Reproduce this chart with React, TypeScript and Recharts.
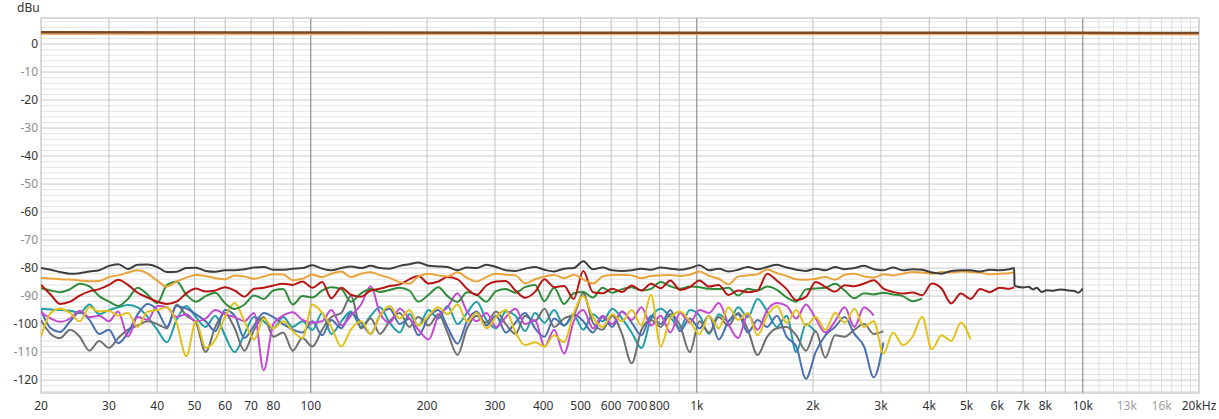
import React from 'react'
import { LineChart, Line, XAxis, YAxis, CartesianGrid } from 'recharts'

const FONT = '"Noto Sans", "Open Sans", sans-serif'

// 1/12 octave frequency grid, 20 Hz .. 6.45 kHz
const FREQ = [
  20, 21.2, 22.4, 23.8, 25.2, 26.7, 28.3, 30, 31.7, 33.6, 35.6, 37.8,
  40, 42.4, 44.9, 47.6, 50.4, 53.4, 56.6, 59.9, 63.5, 67.3, 71.3, 75.5,
  80, 84.8, 89.8, 95.1, 101, 107, 113, 120, 127, 135, 143, 151,
  160, 170, 180, 190, 202, 214, 226, 240, 254, 269, 285, 302,
  320, 339, 359, 381, 403, 427, 453, 480, 508, 538, 570, 604,
  640, 678, 719, 761, 806, 854, 905, 959, 1016, 1076, 1140, 1208,
  1280, 1356, 1437, 1522, 1613, 1709, 1810, 1918, 2032, 2153, 2281, 2416,
  2560, 2712, 2874, 3044, 3225, 3417, 3620, 3836, 4064, 4305, 4561, 4833,
  5120, 5424, 5747, 6089, 6451,
]

// reference level trace (dBu)
const LEVEL_F = [20, 100, 1000, 10000, 20000]
const LEVEL_BROWN = [4.2, 4.1, 4.0, 4.0, 3.9]
const LEVEL_ORANGE = [3.6, 3.5, 3.5, 3.5, 3.4]

const DARK = [
  -80.0, -80.6, -81.4, -82.0, -81.8, -81.2, -80.8, -79.2, -78.6, -80.3, -78.8, -78.7,
  -79.6, -81.4, -81.3, -80.0, -79.9, -81.0, -81.3, -80.8, -80.8, -80.4, -79.8, -79.6,
  -80.6, -80.6, -80.2, -80.0, -79.0, -80.2, -80.8, -80.0, -79.4, -80.0, -79.2, -80.0,
  -80.2, -79.2, -78.6, -78.0, -79.2, -79.4, -79.6, -80.8, -79.8, -80.0, -78.8, -79.6,
  -80.8, -81.0, -80.2, -79.6, -80.6, -81.2, -80.2, -80.0, -77.6, -80.4, -79.8, -80.8,
  -81.0, -80.8, -80.2, -80.6, -79.8, -80.2, -80.6, -80.0, -79.0, -80.8, -80.2, -81.2,
  -80.6, -79.6, -80.4, -79.6, -78.8, -79.8, -80.6, -81.0, -80.2, -80.8, -79.6, -80.4,
  -80.0, -79.2, -80.4, -80.8, -79.8, -80.8, -80.4, -80.6, -81.6, -82.0, -81.0, -80.8,
  -80.8, -81.2, -80.6, -80.8, -80.4,
]
const DARK_TAIL_F = [6640, 6655, 6673, 7013, 7226, 7441, 7594, 7825, 8061, 8385, 8728, 9085, 9449, 9734, 9993]
const DARK_TAIL = [-80.0, -86.3, -86.4, -86.9, -86.7, -87.6, -87.0, -88.5, -87.9, -88.1, -87.6, -87.9, -88.1, -88.8, -87.3]

const ORANGE = [
  -83.5, -83.7, -84.0, -84.1, -84.4, -84.7, -84.6, -83.2, -82.6, -81.6, -80.8, -82.0,
  -84.5, -86.6, -84.8, -83.4, -82.5, -82.8, -83.6, -84.0, -82.6, -83.0, -83.8, -83.0,
  -82.2, -82.3, -84.3, -83.8, -82.4, -83.2, -82.0, -81.2, -83.2, -82.0, -81.5, -82.5,
  -83.5, -85.0, -85.6, -83.0, -82.0, -82.6, -83.0, -81.5, -83.5, -84.8, -83.2, -82.0,
  -82.4, -82.6, -85.5, -84.0, -83.0, -82.5, -83.6, -82.4, -84.0, -85.5, -83.0, -82.5,
  -82.4, -82.6, -83.6, -82.8, -82.6, -82.5, -82.8, -82.4, -81.2, -82.8, -83.8, -85.8,
  -83.0, -82.6, -82.2, -80.5, -81.8, -82.8, -84.0, -84.2, -83.8, -83.2, -84.2, -82.4,
  -82.0, -83.0, -83.4, -82.2, -82.6, -82.0, -81.4, -81.6, -82.0, -81.4, -81.6, -81.2,
  -81.4, -81.6, -82.2, -82.0, -81.8,
]
const RED = [
  -86.0, -89.5, -92.8, -92.0, -89.8, -88.3, -87.5, -86.0, -84.2, -86.0, -88.8, -90.5,
  -92.0, -92.8, -92.0, -89.0, -87.3, -88.4, -88.0, -86.8, -88.0, -90.2, -87.4, -87.0,
  -86.2, -85.6, -86.0, -84.8, -87.0, -85.0, -90.8, -87.0, -89.5, -90.2, -88.0, -87.4,
  -86.4, -85.8, -84.0, -82.8, -85.5, -84.8, -83.2, -84.0, -87.4, -89.6, -86.2, -84.8,
  -84.6, -88.0, -90.6, -88.5, -84.0, -86.8, -86.4, -91.0, -81.0, -88.6, -89.0, -87.4,
  -88.5, -86.2, -88.0, -85.6, -87.2, -84.4, -87.8, -86.8, -84.4, -86.6, -86.0, -89.6,
  -88.0, -88.6, -88.0, -82.0, -84.5, -87.5, -91.5, -90.3, -85.0, -86.7, -88.4, -86.1,
  -86.5, -85.5, -84.3, -87.3, -88.5, -89.1, -88.7, -89.7, -85.5, -87.3, -92.6, -89.1,
  -91.0, -87.5, -88.6, -87.0, -87.4,
]
const GREEN = [
  -87.2, -88.0, -88.6, -87.5, -85.6, -86.5, -90.0, -92.0, -93.5, -91.0, -87.0, -89.5,
  -92.5, -86.0, -84.8, -89.5, -92.0, -90.0, -88.8, -92.5, -94.6, -93.0, -89.8, -91.0,
  -88.0, -87.5, -93.0, -90.0, -90.5, -88.0, -86.8, -87.5, -92.0, -89.0, -87.5, -88.5,
  -87.8, -87.0, -88.0, -92.0, -89.5, -86.8, -90.0, -92.0, -88.6, -89.5, -92.0, -88.2,
  -87.5, -88.8, -86.8, -86.0, -91.8, -87.0, -92.8, -89.0, -88.5, -90.5, -87.0, -88.8,
  -87.5, -86.8, -88.0, -87.4, -85.0, -86.5, -87.4, -86.6, -86.8, -87.4, -87.5, -87.0,
  -89.8, -87.4, -88.0, -86.6, -87.8, -90.5, -92.0, -87.6, -87.3, -87.0, -85.6, -88.0,
  -90.8, -89.0, -89.4, -88.8, -89.4, -90.0, -91.8, -90.8,
]
const TEAL = [
  -94.5, -94.8, -95.0, -95.2, -96.0, -93.0, -96.5, -95.0, -94.0, -93.2, -94.0, -97.5,
  -102.0, -106.5, -98.5, -93.5, -97.5, -101.0, -97.0, -104.0, -110.0, -103.5, -97.5, -99.0,
  -101.5, -97.5, -101.0, -99.0, -102.0, -96.0, -103.5, -99.0, -95.5, -101.0, -97.0, -94.0,
  -99.5, -103.0, -96.5, -100.5, -95.0, -98.0, -93.5, -100.0, -96.0, -92.0, -98.5, -101.5,
  -95.5, -97.0, -102.5, -96.0, -99.5, -95.0, -100.5, -97.0, -102.0, -96.5, -99.0, -94.5,
  -98.0, -103.0, -108.5, -98.0, -94.5, -97.5, -101.5, -95.0, -97.0, -103.5, -96.5, -99.0,
  -94.0, -97.5, -91.0, -95.5, -101.0, -97.0, -110.0, -100.0, -103.0,
]
const BLUE = [
  -95.0, -101.5, -102.8, -99.0, -95.8, -98.5, -103.5, -102.0, -106.8, -103.0, -96.5, -92.8,
  -95.0, -101.0, -93.5, -94.5, -96.5, -99.0, -102.5, -95.0, -97.0, -105.0, -100.5, -96.0,
  -97.5, -100.0, -102.0, -103.0, -99.0, -104.0, -98.5, -101.5, -96.0, -99.5, -103.5, -97.0,
  -94.5, -100.0, -98.0, -104.0, -97.5, -95.0, -101.0, -107.0, -99.0, -95.5, -100.5, -97.0,
  -103.0, -99.5, -96.0, -101.5, -104.5, -98.0, -100.5, -96.5, -99.0, -103.0, -97.5, -101.0,
  -95.5, -99.5, -104.0, -97.0, -100.0, -95.0, -102.5, -98.0, -101.5, -97.0, -105.5, -99.0,
  -96.5, -103.0, -98.5, -101.0, -97.0, -104.5, -108.0, -119.5, -110.0, -104.0, -101.0, -97.5,
  -103.5, -108.0, -119.0, -106.5,
]
const GREY = [
  -98.6, -103.5, -105.0, -102.0, -104.5, -109.5, -106.0, -108.5, -105.0, -102.0, -100.5, -99.0,
  -100.0, -101.5, -93.0, -97.0, -99.5, -110.0, -101.0, -96.0, -101.5, -109.5, -102.0, -97.5,
  -104.5, -103.0, -109.5, -105.0, -108.0, -102.0, -97.5, -96.0, -90.0, -101.5, -98.0, -103.5,
  -99.0, -96.0, -101.0, -97.5, -100.5, -96.5, -103.0, -111.0, -101.5, -97.0, -99.5, -95.5,
  -100.0, -103.5, -97.0, -99.0, -94.5, -101.0, -98.0, -96.5, -89.0, -99.5, -102.0, -97.0,
  -103.5, -114.0, -102.0, -98.5, -101.0, -96.5, -100.5, -110.0, -99.0, -103.0, -97.5, -100.5,
  -96.0, -102.0, -111.0, -104.5, -101.5, -101.0, -104.0, -109.5, -102.5, -112.0, -104.0, -104.5,
  -102.0, -100.0, -103.5, -102.5,
]
const MAGENTA = [
  -95.8, -98.0, -99.2, -98.0, -95.2, -97.5, -97.0, -99.0, -95.5, -104.5, -97.5, -98.5,
  -93.5, -94.0, -97.5, -96.5, -99.0, -98.0, -95.0, -96.5, -97.5, -99.0, -96.0, -116.5,
  -100.0, -97.0, -95.8, -98.5, -99.5, -99.0, -95.0, -100.5, -97.0, -93.0, -86.5, -96.0,
  -99.5, -94.5, -98.0, -102.0, -105.5, -97.0, -94.0, -89.0, -95.5, -99.0, -96.0, -101.0,
  -97.5, -94.5, -100.0, -98.5, -108.0, -102.0, -110.5, -99.0, -95.0, -101.5, -97.0, -100.0,
  -95.5, -98.5, -94.0, -100.5, -97.0, -103.0, -96.0, -99.5, -95.0, -96.0, -92.5, -100.0,
  -105.0, -96.5, -102.0, -95.0, -92.5, -93.5, -98.0, -93.0, -98.0, -103.0, -99.0, -94.0,
  -101.0, -94.0, -97.0,
]
const YELLOW = [
  -104.5, -96.0, -94.5, -96.0, -99.0, -94.0, -95.5, -95.2, -97.0, -96.0, -101.0, -95.5,
  -95.0, -94.0, -99.5, -111.5, -99.0, -108.5, -105.5, -97.5, -92.5, -99.0, -105.5, -98.0,
  -101.5, -99.0, -102.5, -105.0, -93.0, -96.0, -101.0, -108.0, -102.0, -99.0, -103.5, -97.0,
  -93.5, -98.0, -95.0, -100.5, -97.0, -94.0, -96.5, -93.0, -99.0, -96.0, -101.5, -97.5,
  -95.0, -103.0, -107.5, -106.5, -108.0, -104.0, -106.5, -96.0, -90.0, -97.5, -101.0, -96.5,
  -99.0, -95.0, -100.5, -89.5, -108.0, -98.0, -95.5, -99.0, -103.5, -97.0, -101.5, -94.0,
  -98.5, -96.0, -104.0, -97.0, -93.5, -99.5, -95.0, -100.5, -97.5, -102.0, -96.0, -99.5,
  -94.5, -101.0, -99.0, -110.5, -103.0, -107.5, -104.5, -97.5, -109.0, -104.0, -106.0, -99.5,
  -105.5,
]
const YELLOW_F = [...FREQ, 5120]

const RED_END = { f: 6640, v: -86.9 }
const ORANGE_END = { f: 6620, v: -81.6 }

const X_TICKS = [20, 30, 40, 50, 60, 70, 80, 100, 200, 300, 400, 500, 600, 700, 800,
  1000, 2000, 3000, 4000, 5000, 6000, 7000, 8000, 10000, 13000, 16000, 20000]
const X_TICKS_DIM = [13000, 16000]
const Y_TICKS = [-120, -110, -100, -90, -80, -70, -60, -50, -40, -30, -20, -10, 0]

const GRID_F_MINOR = [30, 40, 50, 60, 70, 80, 90, 200, 300, 400, 500, 600, 700, 800, 900,
  2000, 3000, 4000, 5000, 6000, 7000, 8000, 9000]
const GRID_F_MAJOR = [100, 1000, 10000]
const GRID_F_HF = [11000, 12000, 13000, 14000, 15000, 16000, 17000, 18000, 19000]
const GRID_DB_MINOR: number[] = []
for (let d = -124; d <= 8; d += 2) if (d % 10 !== 0) GRID_DB_MINOR.push(d)

const X_DOMAIN = [20, 20000]
const Y_DOMAIN = [-124.6, 9.3]

const pts = (fs: number[], vs: number[]) => vs.map((v, i) => ({ f: fs[i], v }))

const SERIES = [
  { key: 'teal', color: '#1f9ea8', data: pts(FREQ, TEAL) },
  { key: 'grey', color: '#6f6f6f', data: pts(FREQ.concat([3044]), GREY) },
  { key: 'blue', color: '#4a6fae', data: pts(FREQ.concat([3044]), BLUE) },
  { key: 'magenta', color: '#c24ad2', data: pts(FREQ, MAGENTA) },
  { key: 'yellow', color: '#e2c21a', data: pts(YELLOW_F, YELLOW) },
  { key: 'green', color: '#2e8c3a', data: pts(FREQ, GREEN) },
  { key: 'red', color: '#b81414', data: [...pts(FREQ, RED), RED_END] },
  { key: 'orange', color: '#e9a33a', data: [...pts(FREQ, ORANGE), ORANGE_END] },
  { key: 'dark', color: '#3e3e3e', data: [...pts(FREQ, DARK), ...pts(DARK_TAIL_F, DARK_TAIL)] },
  { key: 'levelOrange', color: '#f2b27a', data: pts(LEVEL_F, LEVEL_ORANGE) },
  { key: 'levelBrown', color: '#7b4a22', data: pts(LEVEL_F, LEVEL_BROWN) },
]

function fmtF(v: number) {
  if (v === 20000) return '20kHz'
  if (v >= 1000) return `${v / 1000}k`
  return `${v}`
}

function XTick(props: any) {
  const { x, y, payload } = props
  const dim = X_TICKS_DIM.includes(payload.value)
  return (
    <text x={x} y={y} dy="0.71em" textAnchor="middle" fontSize={12} fontFamily={FONT}
      fill={dim ? '#a0a0a0' : '#333'}>
      {fmtF(payload.value)}
    </text>
  )
}

function YTick(props: any) {
  const { x, y, payload } = props
  const dim = payload.value % 20 !== 0
  return (
    <text x={x} y={y} dy="0.36em" textAnchor="end" fontSize={12} fontFamily={FONT}
      fill={dim ? '#8a8a8a' : '#333'}>
      {payload.value}
    </text>
  )
}

export default function App() {
  return (
    <div style={{ position: 'relative', width: 1219, height: 419, background: '#fff' }}>
      <style>{'body{margin:0}'}</style>
      <div style={{ position: 'absolute', left: 17, top: 1, fontSize: 12, lineHeight: '14px', fontFamily: FONT, color: '#333' }}>
        dBu
      </div>
      <LineChart width={1219} height={419} margin={{ top: 18, right: 20, bottom: 0, left: 0 }}>
        <XAxis dataKey="f" type="number" scale="log" domain={X_DOMAIN} allowDataOverflow
          ticks={X_TICKS} interval={0} tick={<XTick />} tickLine={false} axisLine={false}
          tickSize={0} tickMargin={8} height={26} />
        <YAxis type="number" domain={Y_DOMAIN} allowDataOverflow ticks={Y_TICKS}
          interval={0} tick={<YTick />} tickLine={false} axisLine={false} tickSize={0}
          tickMargin={3} width={41} />
        <CartesianGrid vertical={false} horizontalValues={GRID_DB_MINOR} stroke="#e4e4e4" />
        <CartesianGrid vertical={false} horizontalValues={Y_TICKS} stroke="#c8c8c8" />
        <CartesianGrid horizontal={false} verticalValues={GRID_F_HF} stroke="#dedede" />
        <CartesianGrid horizontal={false} verticalValues={GRID_F_MINOR} stroke="#c0c0c0" />
        <CartesianGrid horizontal={false} verticalValues={GRID_F_MAJOR} stroke="#7a7a7a" />
        <CartesianGrid verticalValues={X_DOMAIN} horizontalValues={Y_DOMAIN} stroke="#b4b4b4" />
        {SERIES.map(s => (
          <Line key={s.key} data={s.data} dataKey="v" type="monotone"
            stroke={s.color} strokeWidth={s.key === 'levelBrown' ? 2.5 : 2} dot={false}
            isAnimationActive={false} />
        ))}
      </LineChart>
    </div>
  )
}
